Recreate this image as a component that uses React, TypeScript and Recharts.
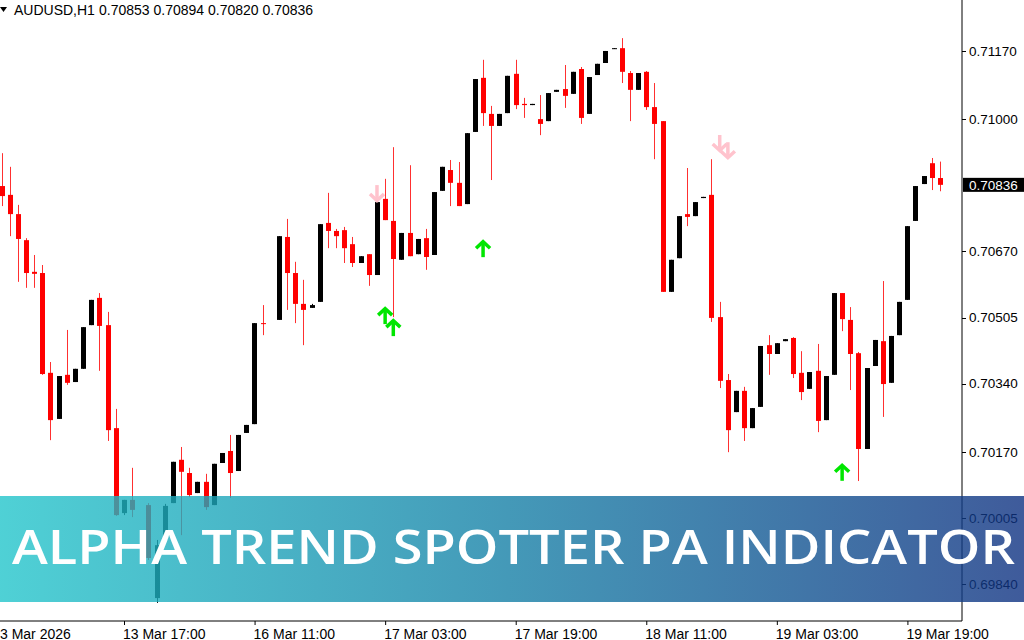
import React from 'react';
import { ComposedChart, Bar, XAxis, YAxis, ReferenceDot } from 'recharts';

// ---- data (AUDUSD H1), slot index = position on the time axis; null = empty slot ----
const openP: (number | null)[] = [
  0.70833, 0.70811, 0.70763, 0.70698, 0.70619, 0.70616, 0.70367, 0.70252, 0.70362, 0.70344,
  0.70377, 0.70486, 0.70554, 0.70486, 0.70229, 0.70017, 0.70050, null, 0.70037, 0.69805,
  0.69957, 0.70042, 0.70150, 0.70117, 0.70067, 0.70095, 0.70037, 0.70142, 0.70172, 0.70122,
  0.70217, 0.70239, 0.70491, null, 0.70499, 0.70706, 0.70616, 0.70539, 0.70529, 0.70544,
  0.70741, 0.70721, 0.70723, 0.70688, 0.70641, 0.70663, 0.70611, 0.70801, 0.70746, 0.70649,
  0.70716, 0.70663, 0.70703, 0.70661, 0.70821, 0.70873, 0.70841, 0.70788, 0.70968, 0.71103,
  0.71013, 0.70983, 0.71015, 0.71113, 0.71038, 0.71035, 0.71000, 0.70995, 0.71068, 0.71075,
  0.71063, 0.71125, 0.71013, 0.71110, 0.71140, 0.71175, 0.71177, 0.71115, 0.71073, 0.71118,
  0.71030, 0.70995, 0.70569, 0.70653, 0.70763, 0.70758, 0.70803, 0.70811, 0.70506, 0.70349,
  0.70269, 0.70322, 0.70229, 0.70282, 0.70436, 0.70414, 0.70446, 0.70454, 0.70367, 0.70327,
  0.70372, 0.70249, 0.70362, 0.70566, 0.70499, 0.70416, 0.70177, 0.70384, 0.70446, 0.70342,
  0.70461, 0.70549, 0.70746, 0.70838, 0.70890, 0.70853,
];
const highP: (number | null)[] = [
  0.70915, 0.70881, 0.70786, 0.70703, 0.70661, 0.70636, 0.70394, 0.70359, 0.70474, 0.70377,
  0.70481, 0.70549, 0.70566, 0.70519, 0.70277, 0.70050, 0.70130, null, 0.70042, 0.69950,
  0.70040, 0.70145, 0.70182, 0.70130, 0.70095, 0.70115, 0.70140, 0.70167, 0.70212, 0.70212,
  0.70237, 0.70491, 0.70536, null, 0.70708, 0.70751, 0.70644, 0.70599, 0.70539, 0.70738,
  0.70816, 0.70726, 0.70731, 0.70706, 0.70658, 0.70663, 0.70793, 0.70851, 0.70930, 0.70716,
  0.70885, 0.70701, 0.70726, 0.70818, 0.70881, 0.70898, 0.70893, 0.70965, 0.71100, 0.71148,
  0.71033, 0.71013, 0.71108, 0.71148, 0.71053, 0.71038, 0.71060, 0.71065, 0.71073, 0.71135,
  0.71118, 0.71130, 0.71105, 0.71138, 0.71170, 0.71177, 0.71202, 0.71120, 0.71115, 0.71120,
  0.71090, 0.70995, 0.70649, 0.70758, 0.70878, 0.70793, 0.70806, 0.70900, 0.70544, 0.70364,
  0.70322, 0.70332, 0.70279, 0.70434, 0.70461, 0.70441, 0.70451, 0.70456, 0.70421, 0.70369,
  0.70439, 0.70359, 0.70566, 0.70566, 0.70531, 0.70419, 0.70379, 0.70449, 0.70596, 0.70459,
  0.70544, 0.70733, 0.70833, 0.70858, 0.70903, 0.70894,
];
const lowP: (number | null)[] = [
  0.70783, 0.70708, 0.70594, 0.70579, 0.70579, 0.70362, 0.70199, 0.70252, 0.70337, 0.70344,
  0.70377, 0.70486, 0.70372, 0.70197, 0.70010, 0.70012, 0.70007, null, 0.69900, 0.69793,
  0.69950, 0.70042, 0.69962, 0.70057, 0.70067, 0.70025, 0.70037, 0.70142, 0.70055, 0.70122,
  0.70217, 0.70239, 0.70461, null, 0.70499, 0.70524, 0.70491, 0.70436, 0.70529, 0.70544,
  0.70678, 0.70678, 0.70641, 0.70631, 0.70641, 0.70584, 0.70611, 0.70748, 0.70506, 0.70649,
  0.70658, 0.70663, 0.70624, 0.70661, 0.70821, 0.70783, 0.70783, 0.70788, 0.70968, 0.70983,
  0.70848, 0.70983, 0.71015, 0.71025, 0.71003, 0.71035, 0.70960, 0.70995, 0.71068, 0.71028,
  0.71063, 0.70988, 0.71013, 0.71110, 0.71140, 0.71175, 0.71090, 0.70995, 0.71073, 0.71023,
  0.70900, 0.70569, 0.70569, 0.70653, 0.70733, 0.70758, 0.70803, 0.70494, 0.70329, 0.70169,
  0.70269, 0.70197, 0.70229, 0.70282, 0.70362, 0.70414, 0.70446, 0.70354, 0.70299, 0.70327,
  0.70219, 0.70249, 0.70362, 0.70471, 0.70324, 0.70097, 0.70177, 0.70384, 0.70257, 0.70342,
  0.70461, 0.70549, 0.70746, 0.70838, 0.70823, 0.70820,
];
const closeP: (number | null)[] = [
  0.70808, 0.70763, 0.70701, 0.70616, 0.70614, 0.70364, 0.70249, 0.70359, 0.70342, 0.70377,
  0.70481, 0.70549, 0.70484, 0.70224, 0.70012, 0.70050, 0.70025, null, 0.69905, 0.69937,
  0.70035, 0.70145, 0.70120, 0.70062, 0.70095, 0.70032, 0.70140, 0.70167, 0.70117, 0.70212,
  0.70237, 0.70491, 0.70489, null, 0.70708, 0.70616, 0.70539, 0.70524, 0.70536, 0.70738,
  0.70721, 0.70708, 0.70678, 0.70641, 0.70658, 0.70611, 0.70793, 0.70748, 0.70651, 0.70716,
  0.70658, 0.70701, 0.70656, 0.70818, 0.70881, 0.70841, 0.70783, 0.70965, 0.71100, 0.71015,
  0.70983, 0.71013, 0.71108, 0.71035, 0.71035, 0.71038, 0.70988, 0.71065, 0.71073, 0.71058,
  0.71118, 0.71003, 0.71105, 0.71138, 0.71170, 0.71177, 0.71118, 0.71073, 0.71115, 0.71030,
  0.70988, 0.70569, 0.70649, 0.70758, 0.70756, 0.70793, 0.70806, 0.70504, 0.70347, 0.70224,
  0.70322, 0.70229, 0.70279, 0.70434, 0.70414, 0.70441, 0.70451, 0.70364, 0.70319, 0.70369,
  0.70247, 0.70359, 0.70566, 0.70501, 0.70414, 0.70177, 0.70379, 0.70449, 0.70339, 0.70459,
  0.70544, 0.70733, 0.70833, 0.70858, 0.70853, 0.70836,
];

// indicator arrows: slot index + price of the arrow tip
const upArrows = [
  { i: 47, p: 0.70531 },
  { i: 48, p: 0.70501 },
  { i: 59, p: 0.70698 },
  { i: 103, p: 0.7014 },
];
const downArrows = [
  { i: 46, p: 0.70793 },
  { i: 88, p: 0.70918 },
  { i: 89, p: 0.709 },
];

const priceTicks = [0.7117, 0.71, 0.7067, 0.70505, 0.7034, 0.7017, 0.70005, 0.6984];
const timeTicks = [-1, 15, 31, 47, 63, 79, 95, 111];
const timeLabels = [
  '3 Mar 2026', '13 Mar 17:00', '16 Mar 11:00', '17 Mar 03:00',
  '17 Mar 19:00', '18 Mar 11:00', '19 Mar 03:00', '19 Mar 19:00',
];
const symbol = 'AUDUSD,H1';
const title = 'ALPHA TREND SPOTTER PA INDICATOR';

const last = openP.length - 1;
const lastClose = closeP[last] as number;

const data = openP
  .map((o, i) =>
    o == null
      ? null
      : { i, o, h: highP[i] as number, l: lowP[i] as number, c: closeP[i] as number }
  )
  .filter(Boolean) as { i: number; o: number; h: number; l: number; c: number }[];

const FONT = '"Liberation Sans", Arial, sans-serif';

function Candle(props: any) {
  const { x, y, width, height, payload } = props;
  if (!payload || x == null || y == null) return null;
  const { o, h, l, c } = payload;
  const top = Math.min(y, y + height);
  const bot = Math.max(y, y + height);
  const span = h - l;
  const py = (p: number) => (span > 0 ? top + ((h - p) / span) * (bot - top) : top);
  const cx = Math.floor(x + width / 2);
  const bull = c >= o;
  const body = bull ? '#000000' : '#ff0000';
  const wick = bull ? '#000000' : '#ff3030';
  const bTop = py(Math.max(o, c));
  const bBot = py(Math.min(o, c));
  const bh = Math.max(1, bBot - bTop);
  return (
    <g>
      <line x1={cx + 0.5} x2={cx + 0.5} y1={top} y2={bot} stroke={wick} strokeWidth={1} />
      <rect x={cx - 2} y={bTop} width={5} height={bh} fill={body} />
    </g>
  );
}

function UpArrow(props: any) {
  const { cx, cy } = props;
  if (cx == null || cy == null) return null;
  return (
    <g stroke="#00e600" strokeWidth={3.5} fill="none" strokeLinejoin="miter">
      <polyline points={`${cx - 7},${cy + 8} ${cx},${cy + 1.5} ${cx + 7},${cy + 8}`} />
      <line x1={cx} x2={cx} y1={cy + 1.5} y2={cy + 17} />
    </g>
  );
}

function DownArrow(props: any) {
  const { cx, cy } = props;
  if (cx == null || cy == null) return null;
  return (
    <g stroke="#ffc3cd" strokeWidth={3.5} fill="none" strokeLinejoin="miter">
      <polyline points={`${cx - 7},${cy - 8} ${cx},${cy - 1.5} ${cx + 7},${cy - 8}`} />
      <line x1={cx} x2={cx} y1={cy - 1.5} y2={cy - 17} />
    </g>
  );
}

function XTick(props: any) {
  const { x, y, payload } = props;
  const idx = timeTicks.indexOf(payload.value);
  const label = idx >= 0 ? timeLabels[idx] : '';
  // the first label sits at the left edge of the picture
  const tx = idx === 0 ? 12 : x - 1;
  return (
    <g>
      <line x1={x + 0.5} x2={x + 0.5} y1={y} y2={y + 4} stroke="#000" />
      <text x={tx} y={y + 17.5} fontFamily={FONT} fontSize={14} fill="#000" textAnchor="start">
        {label}
      </text>
    </g>
  );
}

function YTick(props: any) {
  const { x, y, payload } = props;
  const v = payload.value as number;
  const cur = Math.abs(v - lastClose) < 1e-7;
  return (
    <g>
      {cur ? (
        <rect x={x + 1} y={y - 7} width={62} height={14} fill="#000" />
      ) : (
        <line x1={x} x2={x + 4} y1={Math.round(y) + 0.5} y2={Math.round(y) + 0.5} stroke="#000" />
      )}
      <text x={x + 7} y={y + 4.8} fontFamily={FONT} fontSize={13.5} fill={cur ? '#fff' : '#000'}>
        {v.toFixed(5)}
      </text>
    </g>
  );
}

export default function App() {
  const header = `${openP[last]!.toFixed(5)} ${highP[last]!.toFixed(5)} ${lowP[last]!.toFixed(5)} ${lastClose.toFixed(5)}`;
  return (
    <div style={{ position: 'absolute', left: 0, top: 0, width: 1024, height: 640, overflow: 'hidden', background: '#fff' }}>
      <div style={{ position: 'absolute', left: -12, top: 0 }}>
        <ComposedChart width={1036} height={640} data={data} margin={{ top: 0, right: 0, bottom: 0, left: 0 }}>
          <XAxis
            type="number"
            dataKey="i"
            domain={[-1.667, 117.69]}
            allowDataOverflow
            ticks={timeTicks}
            interval={0}
            height={19}
            tickLine={false}
            tickSize={0}
            tickMargin={0}
            axisLine={{ stroke: '#000' }}
            tick={<XTick />}
          />
          <YAxis
            orientation="right"
            type="number"
            domain={[0.697478, 0.712972]}
            allowDataOverflow
            ticks={[...priceTicks, lastClose]}
            interval={0}
            width={62}
            tickLine={false}
            tickSize={0}
            tickMargin={0}
            axisLine={{ stroke: '#000' }}
            tick={<YTick />}
          />
          <Bar
            dataKey={(d: any) => [d.l, d.h]}
            barSize={5}
            shape={<Candle />}
            isAnimationActive={false}
          />
          {upArrows.map((a) => (
            <ReferenceDot key={`u${a.i}`} x={a.i} y={a.p} r={8} shape={<UpArrow />} ifOverflow="visible" />
          ))}
          {downArrows.map((a) => (
            <ReferenceDot key={`d${a.i}`} x={a.i} y={a.p} r={8} shape={<DownArrow />} ifOverflow="visible" />
          ))}
        </ComposedChart>
      </div>
      <svg width={1024} height={640} style={{ position: 'absolute', left: 0, top: 0, pointerEvents: 'none' }}>
        <defs>
          <linearGradient id="bannerGrad" x1="0" x2="1" y1="0" y2="0">
            <stop offset="0%" stopColor="#23c5cb" />
            <stop offset="50%" stopColor="#157fa6" />
            <stop offset="100%" stopColor="#0f3282" />
          </linearGradient>
        </defs>
        <path d="M0,7 L7,7 L3.5,12 Z" fill="#000" />
        <text x={14} y={14.5} fontFamily={FONT} fontSize={14} fill="#000">
          {symbol}
        </text>
        <text x={99} y={14.5} fontFamily={FONT} fontSize={14} fill="#000">
          {header}
        </text>
        <rect x={0} y={496} width={1024} height={106} fill="url(#bannerGrad)" opacity={0.8} />
        <text
          x={12}
          y={564}
          fontFamily='"Open Sans", sans-serif'
          fontWeight={600}
          fontSize={47.5}
          fill="#ffffff"
          textLength={1003}
          lengthAdjust="spacingAndGlyphs"
        >
          {title}
        </text>
      </svg>
    </div>
  );
}
